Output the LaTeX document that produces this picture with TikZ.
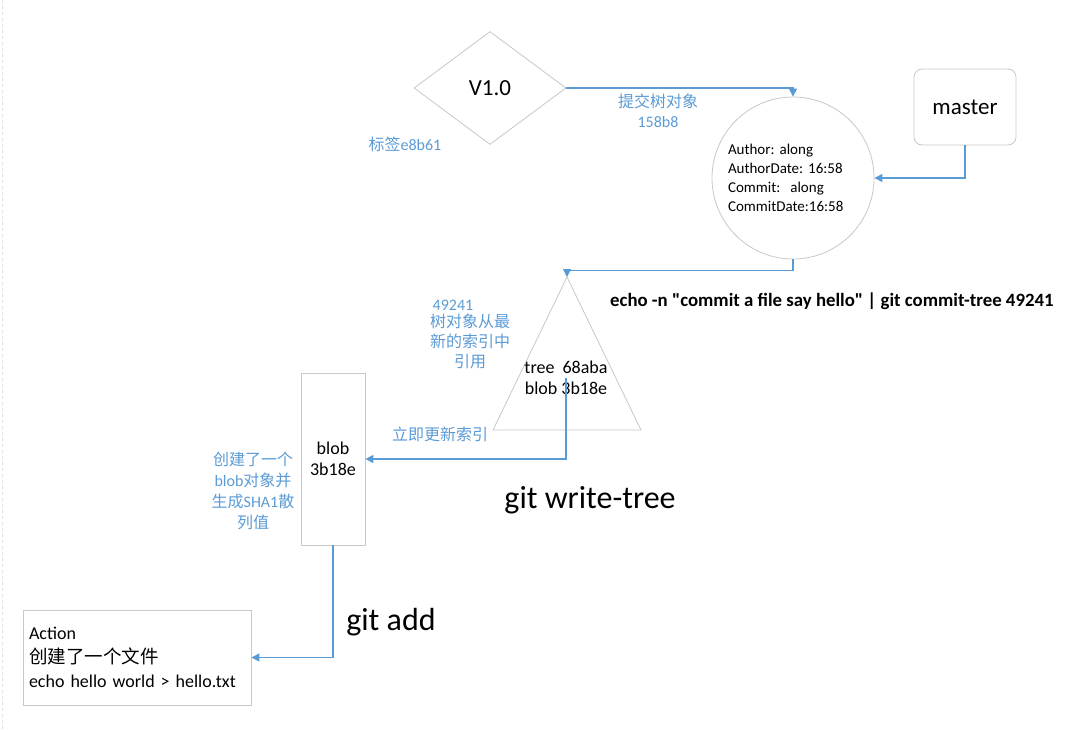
\documentclass[tikz,border=0pt]{standalone}
\usepackage{fontspec}
\setmainfont{Carlito}[Ligatures=TeXOff]
\newfontfamily\cjk{Noto Sans CJK SC}
\usetikzlibrary{shapes.geometric,arrows.meta}
\definecolor{linkblue}{HTML}{5B9BD5}
\definecolor{edgegray}{HTML}{C8C8C8}
\newcommand{\fsz}[2]{\fontsize{#1}{#2}\selectfont}
\frenchspacing
\begin{document}
\begin{tikzpicture}[x=1pt,y=-1pt,
  obj/.style={draw=edgegray,line width=0.8pt,fill=white,inner sep=0pt},
  link/.style={draw=linkblue,line width=1.1pt,-{Triangle[length=8pt,width=8pt]}},
  note/.style={text=linkblue,align=center,inner sep=0pt,font=\fsz{16}{20}},
  cmd/.style={inner sep=0pt,font=\fsz{32}{38}}]
\useasboundingbox (0,0) rectangle (1076,729);
\draw [gray!25,dashed] (2,0) -- (2,729);
% objects
\node[obj,diamond,minimum width=152pt,minimum height=113pt,font=\fsz{23}{28}] (v10) at (490,88) {V1.0};
\node[obj,circle,minimum size=162pt,text width=130pt,align=left,font=\fsz{15}{19}] (commit) at (793,178) {Author: along\\AuthorDate: 16:58\\Commit:~~along\\CommitDate:16:58};
\node[obj,rounded corners=8pt,minimum width=102pt,minimum height=76pt,font=\fsz{23}{28}] (master) at (965,107) {master};
\coordinate (tapex) at (567,277);
\draw [obj] (tapex) -- (641,430) -- (493,430) -- cycle;
\node[inner sep=0pt,align=center,font=\fsz{18}{21}] (treeinfo) at (566,378) {tree~~68aba\\blob 3b18e};
\node[obj,minimum width=64pt,minimum height=172pt,align=center,font=\fsz{18}{21}] (blob) at (333,459) {blob\\3b18e};
\node[obj,minimum height=95pt,text width=216pt,inner xsep=6pt,align=left,font=\fsz{18}{24}] (action) at (137,657.5) {Action\\{\cjk\fsz{18.5}{24} 创建了一个文件}\\echo hello world > hello.txt};
% connectors
\draw [link] (v10.east) -- (v10.east -| commit.north) -- (commit.north);
\draw [link] (master.south) |- (commit.east);
\draw [link] (commit.south) -- ++(0,11) -| (tapex);
\draw [link] (treeinfo.center) |- (blob.east);
\draw [link] (blob.south) |- (action.east);
% labels
\node[note] (commitlbl) at (658,111) {{\cjk 提交树对象}\\158b8};
\node[note] (taglbl) at (405,144) {{\cjk 标签}e8b61};
\node[note] (hashlbl) at (453,305) {49241};
\node[note,font=\cjk\fsz{16}{20}] (treelbl) at (470,341) {树对象从最\\新的索引中\\引用};
\node[note,font=\cjk\fsz{16}{20}] (updlbl) at (440,434) {立即更新索引};
\node[note,font=\fsz{16}{21}] (bloblbl) at (253,491) {{\cjk 创建了一个}\\blob{\cjk 对象并}\\{\cjk 生成}SHA1{\cjk 散}\\{\cjk 列值}};
\node[anchor=west,inner sep=0pt,font=\bfseries\fsz{18.8}{22}] (commitcmd) at (610,301) {echo -n "commit a file say hello" | git commit-tree 49241};
\node[cmd] (writetree) at (590,500) {git write-tree};
\node[cmd] (gitadd) at (391,622) {git add};
\end{tikzpicture}
\end{document}
